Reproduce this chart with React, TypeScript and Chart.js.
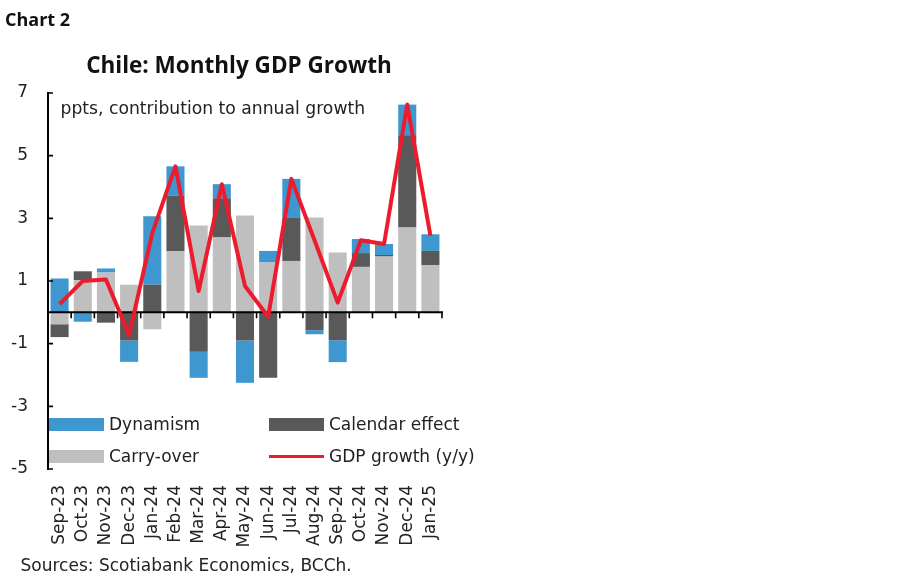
import React, { useEffect, useRef } from 'react';
import { Chart, registerables } from 'chart.js';

Chart.register(...registerables);

const categories = [
  'Sep-23', 'Oct-23', 'Nov-23', 'Dec-23', 'Jan-24', 'Feb-24', 'Mar-24', 'Apr-24', 'May-24',
  'Jun-24', 'Jul-24', 'Aug-24', 'Sep-24', 'Oct-24', 'Nov-24', 'Dec-24', 'Jan-25',
];
const carryOver = [-0.38, 1.03, 1.27, 0.88, -0.54, 1.96, 2.77, 2.39, 3.09, 1.59, 1.64, 3.03, 1.91, 1.45, 1.78, 2.71, 1.51];
const calendarEffect = [-0.41, 0.28, -0.33, -0.9, 0.88, 1.77, -1.26, 1.25, -0.9, -2.09, 1.39, -0.57, -0.89, 0.44, 0.05, 2.94, 0.45];
const dynamism = [1.08, -0.3, 0.13, -0.68, 2.19, 0.93, -0.83, 0.45, -1.35, 0.37, 1.23, -0.13, -0.7, 0.45, 0.35, 0.98, 0.53];
const gdpGrowth = [0.26, 1.0, 1.05, -0.72, 2.53, 4.66, 0.68, 4.09, 0.84, -0.14, 4.26, 2.3, 0.31, 2.3, 2.18, 6.63, 2.45];

const yMin = -5;
const yMax = 7;
const yStep = 2;

const seriesNames = ['Dynamism', 'Calendar effect', 'Carry-over', 'GDP growth (y/y)'];
const BLUE = '#3E98CF';
const DARK = '#595959';
const LIGHT = '#BFBFBF';
const RED = '#EC1C2E';

const BODY_FONT = '"DejaVu Sans", sans-serif';
const BOLD_FONT = '"Open Sans", sans-serif';
const TEXT = '#222';

const axesPlugin = {
  id: 'customAxes',
  beforeDatasetDraw(chart: any, args: any) {
    if (args.index !== 3) return;
    const { ctx, chartArea, scales } = chart;
    const x = scales.x;
    const y = scales.y;
    const y0 = y.getPixelForValue(0);
    ctx.save();
    ctx.strokeStyle = '#000';
    ctx.lineWidth = 2;
    ctx.beginPath();
    ctx.moveTo(chartArea.left, y0);
    ctx.lineTo(chartArea.right + 1, y0);
    ctx.stroke();
    ctx.lineWidth = 1.6;
    ctx.beginPath();
    for (let i = 1; i <= categories.length; i++) {
      const px = x.getPixelForValue(i - 0.5);
      ctx.moveTo(px, y0);
      ctx.lineTo(px, y0 + 6);
    }
    y.ticks.forEach((t: any) => {
      const py = y.getPixelForValue(t.value);
      ctx.moveTo(chartArea.left, py);
      ctx.lineTo(chartArea.left + 5, py);
    });
    ctx.stroke();
    ctx.restore();
  },
};

const legendItems = [
  { label: seriesNames[0], color: BLUE, kind: 'box', left: 49, top: 418 },
  { label: seriesNames[1], color: DARK, kind: 'box', left: 269, top: 418 },
  { label: seriesNames[2], color: LIGHT, kind: 'box', left: 49, top: 450 },
  { label: seriesNames[3], color: RED, kind: 'line', left: 269, top: 450 },
];

export default function App() {
  const canvasRef = useRef<HTMLCanvasElement | null>(null);

  useEffect(() => {
    if (!canvasRef.current) return;
    const chart = new Chart(canvasRef.current, {
      type: 'bar',
      data: {
        labels: categories,
        datasets: [
          { type: 'bar', label: seriesNames[2], data: carryOver, backgroundColor: LIGHT, stack: 'bars', order: 1 },
          { type: 'bar', label: seriesNames[1], data: calendarEffect, backgroundColor: DARK, stack: 'bars', order: 1 },
          { type: 'bar', label: seriesNames[0], data: dynamism, backgroundColor: BLUE, stack: 'bars', order: 1 },
          {
            type: 'line', label: seriesNames[3], data: gdpGrowth, borderColor: RED, backgroundColor: RED,
            borderWidth: 4, borderJoinStyle: 'round', pointRadius: 0, tension: 0, stack: 'line', order: 0,
          },
        ] as any,
      },
      options: {
        responsive: false,
        animation: false,
        layout: { padding: { top: 93, right: 458, left: 0, bottom: 10 } },
        datasets: { bar: { barPercentage: 0.78, categoryPercentage: 1 } } as any,
        plugins: { legend: { display: false }, tooltip: { enabled: false }, title: { display: false } },
        scales: {
          x: {
            stacked: true,
            grid: { display: false },
            border: { display: false },
            ticks: {
              autoSkip: false, minRotation: 90, maxRotation: 90, padding: 8,
              color: TEXT, font: { family: BODY_FONT, size: 17 },
            },
            afterFit: (s: any) => { s.height = 100; },
          },
          y: {
            stacked: true,
            min: yMin,
            max: yMax,
            grid: { display: true, drawOnChartArea: false, drawTicks: false },
            border: { display: true, color: '#000', width: 2 },
            ticks: { stepSize: yStep, padding: 20, color: TEXT, font: { family: BODY_FONT, size: 17 } },
            afterFit: (s: any) => { s.width = 48; },
          },
        },
      } as any,
      plugins: [axesPlugin],
    });
    return () => chart.destroy();
  }, []);

  const bodyText = (size: number): React.CSSProperties => ({
    position: 'absolute', fontFamily: BODY_FONT, fontSize: size, lineHeight: `${size * 1.164}px`,
    color: TEXT, whiteSpace: 'nowrap', margin: 0,
  });

  return (
    <div style={{ position: 'fixed', left: 0, top: 0, width: 900, height: 579, background: '#fff', overflow: 'hidden' }}>
      <canvas ref={canvasRef} width={900} height={579} style={{ position: 'absolute', left: 0, top: 0, display: 'block' }} />
      <div style={{
        position: 'absolute', left: 5, top: 26 - 18 * 1.069, fontFamily: BOLD_FONT, fontWeight: 700,
        fontSize: 18, lineHeight: `${18 * 1.362}px`, color: '#111', whiteSpace: 'nowrap',
      }}>Chart 2</div>
      <div style={{
        position: 'absolute', left: 0, width: 478, textAlign: 'center', top: 74 - 22.5 * 1.069, fontFamily: BOLD_FONT,
        fontWeight: 700, fontSize: 22.5, lineHeight: `${22.5 * 1.362}px`, color: '#111', whiteSpace: 'nowrap',
      }}>Chile: Monthly GDP Growth</div>
      <div style={{ ...bodyText(17.2), left: 60.5, top: 113.5 - 17.2 * 0.928 }}>ppts, contribution to annual growth</div>
      {legendItems.map((it) => (
        <React.Fragment key={it.label}>
          {it.kind === 'box' ? (
            <div style={{ position: 'absolute', left: it.left, top: it.top, width: 55, height: 13, background: it.color }} />
          ) : (
            <div style={{ position: 'absolute', left: it.left, top: it.top + 5, width: 55, height: 3, background: it.color }} />
          )}
          <div style={{ ...bodyText(17), left: it.left + 60, top: it.top + 12.7 - 17 * 0.928 }}>{it.label}</div>
        </React.Fragment>
      ))}
      <div style={{ ...bodyText(17), left: 20.5, top: 571.7 - 17 * 0.928 }}>Sources: Scotiabank Economics, BCCh.</div>
    </div>
  );
}
